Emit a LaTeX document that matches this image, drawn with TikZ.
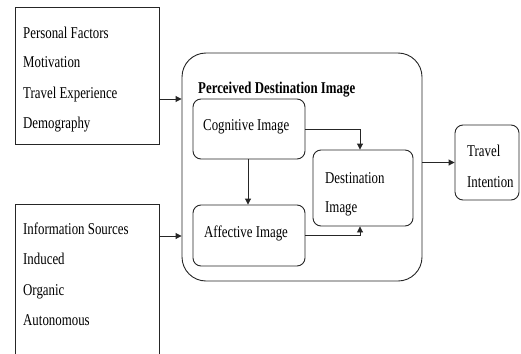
\documentclass[tikz,border=0pt]{standalone}
\usepackage{fontspec}
\setmainfont{Liberation Serif}[FakeStretch=0.78]
\usetikzlibrary{arrows.meta,calc}
\begin{document}
\begin{tikzpicture}[x=1pt,y=-1pt,
  box/.style={draw=black!85,line width=0.9pt,inner sep=0pt},
  rbox/.style={box,rounded corners=8pt},
  lbl/.style={anchor=base west,inner sep=0pt,font=\fontsize{16.5}{19}\selectfont},
  arr/.style={draw=black!85,line width=0.9pt,-{Triangle[length=6pt,width=6pt]}}]
\clip (0,0) rectangle (521,353);
\fill[white] (0,0) rectangle (521,353);
% left boxes
\node[box,minimum width=144pt,minimum height=137pt] (pf) at (87,75.5) {};
\node[box,minimum width=144pt,minimum height=156pt] (is) at (87,282) {};
\node[lbl] (pf1) at (23,38) {Personal Factors};
\node[lbl] (pf2) at (23,67.5) {Motivation};
\node[lbl] (pf3) at (23,98) {Travel Experience};
\node[lbl] (pf4) at (23,128) {Demography};
\node[lbl] (is1) at (23,234.5) {Information Sources};
\node[lbl] (is2) at (23,264.5) {Induced};
\node[lbl] (is3) at (23,295) {Organic};
\node[lbl] (is4) at (23,325) {Autonomous};
% outer box
\node[box,rounded corners=24pt,minimum width=240pt,minimum height=228pt] (pdi) at (302,167) {};
\node[lbl,font=\fontsize{16.5}{19}\selectfont\bfseries] (title) at (198,93.5) {Perceived Destination Image};
% inner boxes
\node[rbox,minimum width=112pt,minimum height=60pt] (cog) at (249,129) {};
\node[rbox,minimum width=112pt,minimum height=61pt] (aff) at (249,235.5) {};
\node[rbox,minimum width=100pt,minimum height=76pt] (dest) at (363,188) {};
\node[rbox,minimum width=64pt,minimum height=75pt] (ti) at (487,162.5) {};
\node[lbl] (cogt) at (203,130) {Cognitive Image};
\node[lbl] (afft) at (204,237.5) {Affective Image};
\node[lbl] (dest1) at (325,183.5) {Destination};
\node[lbl] (dest2) at (325,212.5) {Image};
\node[lbl] (ti1) at (467,156.5) {Travel};
\node[lbl] (ti2) at (467,187) {Intention};
% connectors
\draw[arr] ([yshift=-23.5pt]pf.east) -- ([yshift=-23.5pt]pf.east -| pdi.west);
\draw[arr] ([yshift=46pt]is.east) -- ([yshift=46pt]is.east -| pdi.west);
\draw[arr] (cog.south -| 248,0) -- (aff.north -| 248,0);
\draw[arr] (cog.east) -| ([xshift=-3pt]dest.north);
\draw[arr] (aff.east) -| ([xshift=-3pt]dest.south);
\draw[arr] (pdi.east |- ti.west) -- (ti.west);
\end{tikzpicture}
\end{document}
